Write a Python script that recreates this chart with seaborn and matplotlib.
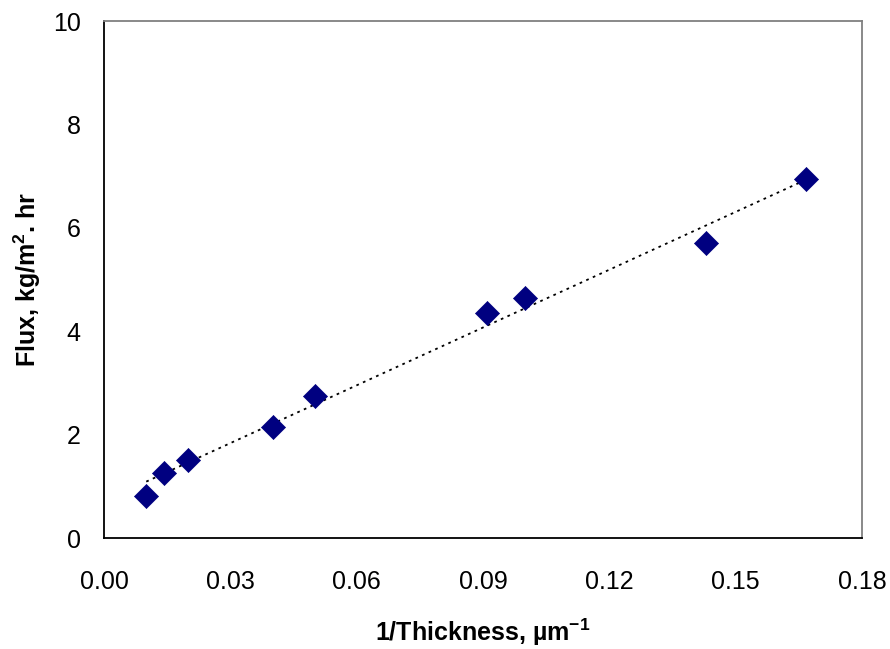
import numpy as np
import pandas as pd
import matplotlib
matplotlib.use("Agg")
import matplotlib.pyplot as plt
import seaborn as sns

# data
inv_thickness = [0.01, 0.0143, 0.02, 0.04, 0.05, 0.0909, 0.10, 0.1429, 0.1667]
flux = [0.81, 1.26, 1.51, 2.15, 2.75, 4.35, 4.64, 5.71, 6.94]
x_ticks = [0.00, 0.03, 0.06, 0.09, 0.12, 0.15, 0.18]
y_ticks = [0, 2, 4, 6, 8, 10]

df = pd.DataFrame({"inv_thickness": inv_thickness, "flux": flux})

sns.set_style("white")
plt.rcParams["font.family"] = ["Liberation Sans", "DejaVu Sans"]
plt.rcParams["mathtext.fontset"] = "custom"
plt.rcParams["mathtext.rm"] = "Liberation Sans"
plt.rcParams["mathtext.bf"] = "Liberation Sans:bold"
for key in ["text.color", "axes.labelcolor", "xtick.color", "ytick.color"]:
    plt.rcParams[key] = "black"

fig, ax = plt.subplots(figsize=(8.9, 6.49), dpi=100)
fig.subplots_adjust(left=0.117, right=0.9685, top=0.9676, bottom=0.171)

# linear trend line (dotted)
sns.regplot(data=df, x="inv_thickness", y="flux", ax=ax, ci=None, scatter=False,
            line_kws=dict(color="black", linestyle=(0, (1.5, 2.5)), linewidth=1.3))
sns.scatterplot(data=df, x="inv_thickness", y="flux", ax=ax, marker="D",
                s=150, color="#000080", edgecolor="#000080", linewidth=0.5, zorder=3)

ax.set_xlim(0, 0.18)
ax.set_ylim(0, 10)
ax.set_xticks(x_ticks)
ax.set_xticklabels([f"{t:.2f}" for t in x_ticks])
ax.set_yticks(y_ticks)
ax.set_yticklabels([str(t) for t in y_ticks])
ax.tick_params(axis="both", direction="in", length=6, width=1, color="black",
               labelsize=18, labelcolor="black")
ax.tick_params(axis="x", pad=23)
ax.tick_params(axis="y", pad=17)

for side in ["left", "bottom"]:
    ax.spines[side].set_color("black")
    ax.spines[side].set_linewidth(1.3)
for side in ["top", "right"]:
    ax.spines[side].set_color("#808080")
    ax.spines[side].set_linewidth(1.3)

ax.set_xlabel(r"1/Thickness, µm$^{\mathbf{-1}}$", fontsize=18, fontweight="bold",
              labelpad=16, color="black")
ax.set_ylabel(r"Flux, kg/m$^{\mathbf{2}}$. hr", fontsize=18, fontweight="bold",
              labelpad=7, color="black")

fig.savefig("out.png", dpi=100)
